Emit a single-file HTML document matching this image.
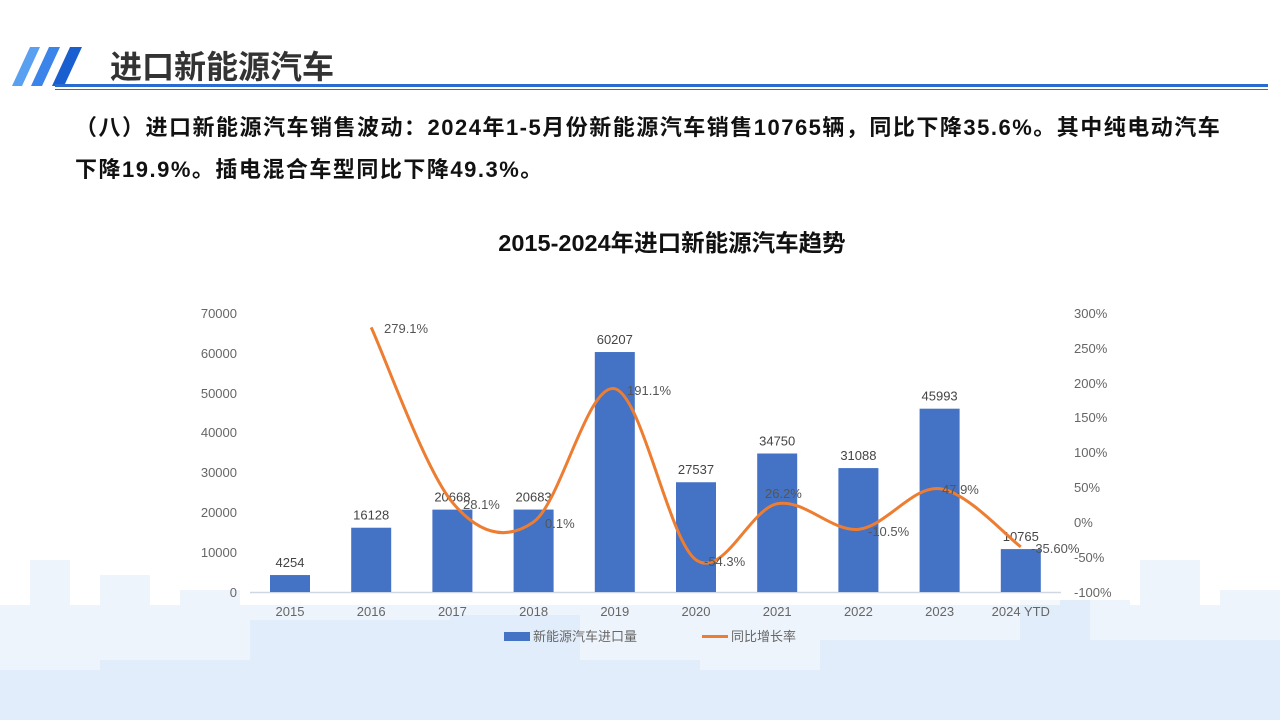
<!DOCTYPE html>
<html><head><meta charset="utf-8"><style>
body{margin:0;width:1280px;height:720px;overflow:hidden;background:#fff;font-family:"Liberation Sans","Noto Sans CJK SC",sans-serif;position:relative}
.p{position:absolute;left:75px;font-size:22px;font-weight:bold;color:#111;white-space:nowrap;letter-spacing:1.5px}
</style></head><body>
<svg width="1280" height="720" style="position:absolute;left:0;top:0">
<g fill="#eef4fc">
<rect x="0" y="605" width="1280" height="115"/>
<rect x="30" y="560" width="40" height="160"/><rect x="100" y="575" width="50" height="145"/>
<rect x="180" y="590" width="60" height="130"/><rect x="1140" y="560" width="60" height="160"/>
<rect x="1220" y="590" width="60" height="130"/><rect x="1090" y="600" width="40" height="120"/>
</g>
<g fill="#e2edfb">
<rect x="0" y="670" width="1280" height="50"/>
<rect x="100" y="660" width="150" height="60"/><rect x="250" y="620" width="200" height="100"/>
<rect x="450" y="615" width="130" height="105"/><rect x="580" y="660" width="120" height="60"/>
<rect x="820" y="640" width="200" height="80"/><rect x="1020" y="600" width="70" height="120"/>
<rect x="1090" y="640" width="190" height="80"/>
</g>
<g fill="#ffffff" opacity="0.6"><rect x="250" y="575" width="810" height="30"/></g>
<polygon points="12,86 30,47 40,47 22,86" fill="#5aa0f0"/>
<polygon points="31,86 49,47 60,47 42,86" fill="#3a84ea"/>
<polygon points="52,86 70,47 82,47 64,86" fill="#1a5fd0"/>
<text x="110" y="78" font-size="32" font-weight="bold" fill="#333">进口新能源汽车</text>
<rect x="55" y="84" width="1213" height="3" fill="#2a6bd0"/>
<rect x="55" y="89" width="1213" height="1" fill="#2a6bd0"/>
<text x="672" y="251" font-size="23.5" font-weight="bold" fill="#111" text-anchor="middle">2015-2024年进口新能源汽车趋势</text>
<g font-size="13" fill="#666" text-anchor="end">
<text x="237" y="318">70000</text><text x="237" y="358">60000</text><text x="237" y="398">50000</text>
<text x="237" y="437">40000</text><text x="237" y="477">30000</text><text x="237" y="517">20000</text>
<text x="237" y="557">10000</text><text x="237" y="597">0</text>
</g>
<g font-size="13" fill="#666">
<text x="1074" y="318">300%</text><text x="1074" y="353">250%</text><text x="1074" y="388">200%</text>
<text x="1074" y="422">150%</text><text x="1074" y="457">100%</text><text x="1074" y="492">50%</text>
<text x="1074" y="527">0%</text><text x="1074" y="562">-50%</text><text x="1074" y="597">-100%</text>
</g>
<line x1="250" y1="592.5" x2="1061" y2="592.5" stroke="#d0d7e2" stroke-width="1.5"/>
<g id="bars" fill="#4472c4"></g>
<g id="blab" font-size="13" fill="#444" text-anchor="middle"></g>
<g id="xl" font-size="13" fill="#666" text-anchor="middle"></g>
<path id="ln" fill="none" stroke="#ed7d31" stroke-width="3"/>
<g font-size="13" fill="#555">
<text x="384" y="333">279.1%</text><text x="463" y="509">28.1%</text><text x="545" y="528">0.1%</text>
<text x="627" y="395">191.1%</text><text x="704" y="566">-54.3%</text><text x="765" y="498">26.2%</text>
<text x="868" y="536">-10.5%</text><text x="942" y="494">47.9%</text><text x="1031" y="553">-35.60%</text>
</g>
<rect x="504" y="632" width="26" height="9" fill="#4472c4"/>
<text x="533" y="641" font-size="13" fill="#666">新能源汽车进口量</text>
<rect x="702" y="635" width="26" height="3" fill="#ed7d31"/>
<text x="731" y="641" font-size="13" fill="#666">同比增长率</text>
</svg>
<div class="p" style="top:110px">（八）进口新能源汽车销售波动：2024年1-5月份新能源汽车销售10765辆，同比下降35.6%。其中纯电动汽车</div>
<div class="p" style="top:152px">下降19.9%。插电混合车型同比下降49.3%。</div>
<script>
var v=[4254,16128,20668,20683,60207,27537,34750,31088,45993,10765];
var yrs=["2015","2016","2017","2018","2019","2020","2021","2022","2023","2024 YTD"];
var r=[null,279.1,28.1,0.1,191.1,-54.3,26.2,-10.5,47.9,-35.6];
var b="",l="",x="";
for(var i=0;i<10;i++){var cx=290+i*81.2,h=v[i]*279/70000;
b+='<rect x="'+(cx-20)+'" y="'+(592-h)+'" width="40" height="'+h+'"/>';
l+='<text x="'+cx+'" y="'+(592-h-8)+'">'+v[i]+'</text>';
x+='<text x="'+cx+'" y="616">'+yrs[i]+'</text>';}
document.getElementById('bars').innerHTML=b;document.getElementById('blab').innerHTML=l;document.getElementById('xl').innerHTML=x;
var p=[];for(var i=1;i<10;i++)p.push([290+i*81.2,522-r[i]*0.6975]);
var d="M"+p[0][0]+","+p[0][1];
for(var i=0;i<p.length-1;i++){var p0=p[i-1]||p[i],p1=p[i],p2=p[i+1],p3=p[i+2]||p2;
d+=" C"+(p1[0]+(p2[0]-p0[0])/6)+","+(p1[1]+(p2[1]-p0[1])/6)+" "+(p2[0]-(p3[0]-p1[0])/6)+","+(p2[1]-(p3[1]-p1[1])/6)+" "+p2[0]+","+p2[1];}
document.getElementById('ln').setAttribute('d',d);
</script>
</body></html>
